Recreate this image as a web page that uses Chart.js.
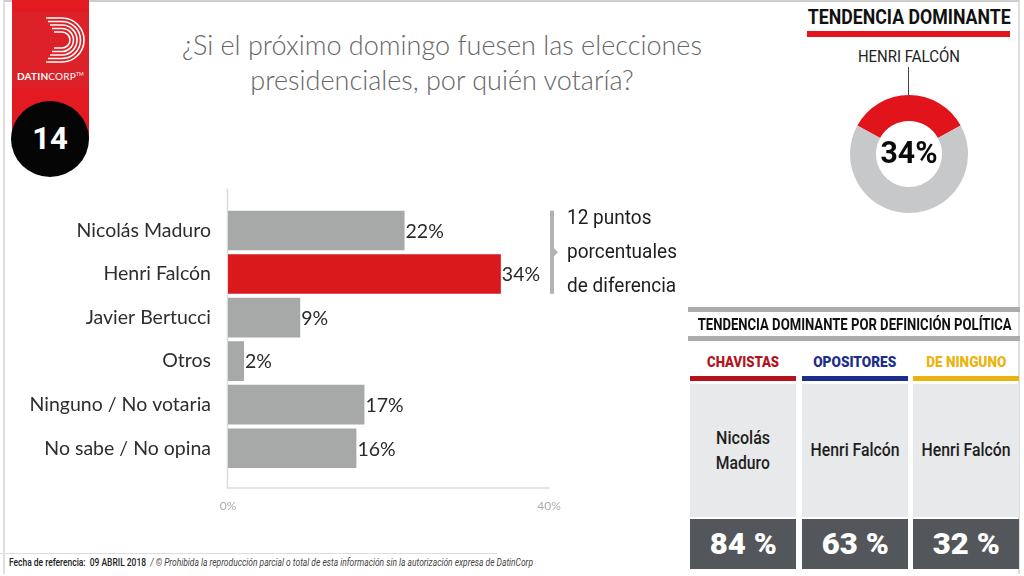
<!DOCTYPE html>
<html>
<head>
<meta charset="utf-8">
<script src="https://cdn.jsdelivr.net/npm/chart.js@4.4.1/dist/chart.umd.min.js"></script>
<style>
  html, body { margin: 0; padding: 0; }
  body { width: 1024px; height: 576px; position: relative; overflow: hidden; background: #fff; font-family: Lato, sans-serif; }
  .abs { position: absolute; }
  .frame { left: 3px; top: 0; width: 1017px; height: 574px; border-top: 2px solid #cdcdcd; border-left: 2px solid #dedede; border-right: 2px solid #dedede; box-sizing: border-box; }
  .narrow { font-family: Roboto, sans-serif; white-space: nowrap; }
  .fit { display: inline-block; white-space: nowrap; transform-origin: center center; }
  #title { left: 130px; top: 27px; width: 624px; text-align: center; font-size: 27px; font-weight: 300; color: #666; line-height: 35px; }
  #ribbon { left: 12px; top: 0; width: 77px; height: 140px; background: #e31a22; }
  #ribbon .logo { position: absolute; left: 0; top: 12px; width: 77px; height: 76px; background: #dc2128; }
  #ribbon .brand { position: absolute; left: 0; top: 70px; width: 77px; text-align: center; color: #fff; font-size: 10px; letter-spacing: 0.2px; }
  #badge { left: 11px; top: 101px; width: 78px; height: 76px; border-radius: 50%; background: #050505; color: #fff; font: bold 31px Roboto, sans-serif; text-align: center; line-height: 76px; }
  #trend { left: 784px; top: 5px; width: 250px; text-align: center; font-weight: bold; font-size: 21px; color: #111; }
  #trendBar { left: 807px; top: 31px; width: 203px; height: 6px; background: #e3141b; }
  #trendName { left: 809px; top: 46px; width: 200px; text-align: center; font-size: 17px; color: #222; }
  #trendLine { left: 908px; top: 67px; width: 1px; height: 31px; background: #444; }
  #donut { left: 850px; top: 95px; width: 118px; height: 118px; }
  #bars { left: 0; top: 180px; width: 690px; height: 340px; }
  .tline { left: 688px; width: 332px; height: 5px; background: #a9abad; }
  #tableHead { left: 660px; top: 315px; width: 390px; text-align: center; font-weight: bold; font-size: 16px; color: #111; }
  .col { top: 350px; width: 106px; }
  .col .head { height: 26px; text-align: center; font-weight: 900; font-size: 15px; line-height: 24px; }
  .col .stripe { height: 5px; }
  .col .name { margin-top: 3px; height: 133px; background: #e8e9ea; display: flex; flex-direction: column; align-items: center; justify-content: center; text-align: center; font-size: 18.5px; line-height: 25px; color: #1e1e1e; font-weight: 500; }
  .col .value { margin-top: 2px; height: 50px; background: #53575b; color: #fff; text-align: center; font-weight: 900; font-size: 30px; line-height: 50px; }
  #footLine { left: 0; top: 553px; width: 497px; height: 1px; background: #ddd; }
  #foot { left: 9px; top: 557px; font-size: 10px; color: #222; }
  #foot .fit { transform-origin: left center; }
  #foot i { color: #444; }
</style>
</head>
<body>
<div class="abs frame"></div>

<div class="abs" id="ribbon">
  <div class="logo">
    <svg width="77" height="60" viewBox="0 0 77 60">
      <g fill="none" stroke="#fff" stroke-width="1.6">
        <path d="M34 6 H50 A22 22 0 0 1 50 50 H34"/>
        <path d="M36 9.5 H50 A18.5 18.5 0 0 1 50 46.5 H36"/>
        <path d="M38 13 H50 A15 15 0 0 1 50 43 H38"/>
        <path d="M40 16.5 H50 A11.5 11.5 0 0 1 50 39.5 H40"/>
        <path d="M42 20 H50 A8 8 0 0 1 50 36 H42"/>
      </g>
    </svg>
  </div>
  <div class="brand"><b>DATIN</b>CORP<sup style="font-size:5px">TM</sup></div>
</div>
<div class="abs" id="badge">14</div>

<div class="abs" id="title"></div>

<div class="abs narrow" id="trend"><span class="fit" data-w="203">TENDENCIA DOMINANTE</span></div>
<div class="abs" id="trendBar"></div>
<div class="abs narrow" id="trendName"><span class="fit" data-w="102"></span></div>
<div class="abs" id="trendLine"></div>
<canvas class="abs" id="donut" width="118" height="118"></canvas>

<canvas class="abs" id="bars" width="690" height="340"></canvas>

<div class="abs tline" style="top:307px"></div>
<div class="abs narrow" id="tableHead"><span class="fit" data-w="314">TENDENCIA DOMINANTE POR DEFINICIÓN POLÍTICA</span></div>
<div class="abs tline" style="top:336px"></div>
<div id="table"></div>

<div class="abs" id="footLine"></div>
<div class="abs narrow" id="foot"><span class="fit" data-w="524"><b style="font-weight:500">Fecha de referencia:&nbsp; 09 ABRIL 2018</b>&nbsp; <i>/ © Prohibida la reproducción parcial o total de esta información sin la autorización expresa de DatinCorp</i></span></div>

<script>
const titleLines = ['¿Si el próximo domingo fuesen las elecciones', 'presidenciales, por quién votaría?'];

// main bar chart
const categories = ['Nicolás Maduro', 'Henri Falcón', 'Javier Bertucci', 'Otros', 'Ninguno / No votaria', 'No sabe / No opina'];
const voteShares = [22, 34, 9, 2, 17, 16];
const leader = 'Henri Falcón';
const axisTicks = [0, 40];

// donut top right
const donutName = 'HENRI FALCÓN';
const donutValues = [34, 66];

// table by political definition
const groups = ['CHAVISTAS', 'OPOSITORES', 'DE NINGUNO'];
const groupColors = ['#b3141c', '#1c2d8b', '#e9b410'];
const groupLeaders = [['Nicolás', 'Maduro'], ['Henri Falcón'], ['Henri Falcón']];
const groupShares = [84, 63, 32];

document.getElementById('title').innerHTML = titleLines.join('<br>');
document.querySelector('#trendName .fit').textContent = donutName;

const colLefts = [690, 802, 913];
const headWidths = [72, 83, 80];
document.getElementById('table').innerHTML = groups.map((g, i) =>
  `<div class="abs col narrow" style="left:${colLefts[i]}px">
     <div class="head" style="color:${groupColors[i]}"><span class="fit" data-w="${headWidths[i]}">${g}</span></div>
     <div class="stripe" style="background:${groupColors[i]}"></div>
     <div class="name">${groupLeaders[i].map(t => `<span class="fit" data-w="${t.length > 8 ? 89 : 54}">${t}</span>`).join('')}</div>
     <div class="value"><span class="fit" data-w="67">${groupShares[i]} %</span></div>
   </div>`).join('');

// squeeze the condensed-looking texts to the widths they have in the slide
document.querySelectorAll('.fit').forEach(el => {
  const w = +el.dataset.w;
  el.style.transform = `scaleX(${w / el.getBoundingClientRect().width})`;
});

function narrowText(ctx, text, x, y, scale) {
  ctx.save();
  ctx.translate(x, y);
  ctx.scale(scale, 1);
  ctx.fillText(text, 0, 0);
  ctx.restore();
}

const barExtras = {
  id: 'barExtras',
  beforeDatasetsDraw(chart) {
    const { ctx, chartArea, scales: { x } } = chart;
    ctx.save();
    ctx.strokeStyle = '#dcdcdc';
    ctx.lineWidth = 1.5;
    ctx.beginPath();
    ctx.moveTo(x.getPixelForValue(0) - 0.5, chartArea.top - 20);
    ctx.lineTo(x.getPixelForValue(0) - 0.5, chartArea.bottom + 18);
    ctx.lineTo(x.getPixelForValue(40) + 1, chartArea.bottom + 18);
    ctx.stroke();
    ctx.restore();
  },
  afterDatasetsDraw(chart) {
    const { ctx, scales: { x } } = chart;
    const bars = chart.getDatasetMeta(0).data;
    ctx.save();
    ctx.fillStyle = '#2a2a2a';
    ctx.font = '19.5px Lato';
    ctx.textBaseline = 'middle';
    bars.forEach((bar, i) => ctx.fillText(voteShares[i] + '%', bar.x + 1, bar.y + 1));

    // bracket between the two leading candidates
    const top = bars[0].y - bars[0].height / 2;
    const bottom = bars[1].y + bars[1].height / 2;
    const bx = x.getPixelForValue(40) + 1;
    ctx.fillStyle = '#b3b3b3';
    ctx.fillRect(bx, top, 4, bottom - top);
    const my = (top + bottom) / 2;
    ctx.beginPath();
    ctx.moveTo(bx + 4, my - 4);
    ctx.lineTo(bx + 8, my);
    ctx.lineTo(bx + 4, my + 4);
    ctx.fill();

    const gap = voteShares[1] - voteShares[0];
    ctx.fillStyle = '#1e1e1e';
    ctx.font = '21px Roboto';
    const sx = 110 / ctx.measureText('porcentuales').width;
    [gap + ' puntos', 'porcentuales', 'de diferencia'].forEach((t, i) =>
      narrowText(ctx, t, bx + 17, my - 34 + i * 34, sx));
    ctx.restore();
  }
};

new Chart(document.getElementById('bars'), {
  type: 'bar',
  data: {
    labels: categories,
    datasets: [{
      data: voteShares,
      backgroundColor: categories.map(c => c === leader ? '#d9191c' : '#a7a9a8'),
      categoryPercentage: 1,
      barPercentage: 0.91
    }]
  },
  options: {
    indexAxis: 'y',
    responsive: false,
    animation: false,
    layout: { padding: { top: 26, right: 141, left: 0, bottom: 0 } },
    plugins: { legend: { display: false }, tooltip: { enabled: false } },
    scales: {
      x: {
        min: 0,
        max: 40,
        grid: { display: false, drawTicks: false },
        border: { display: false },
        afterBuildTicks: s => { s.ticks = axisTicks.map(v => ({ value: v })); },
        afterFit: s => { s.height = 50; },
        ticks: { padding: 29, color: '#acacac', font: { family: 'Lato', size: 12 }, callback: v => v + '%' }
      },
      y: {
        grid: { display: false, drawTicks: false },
        border: { display: false },
        afterFit: s => { s.width = 228; },
        ticks: { padding: 17, color: '#2e2e2e', font: { family: 'Lato', size: 19.5 } }
      }
    }
  },
  plugins: [barExtras]
});

const donutCenter = {
  id: 'donutCenter',
  afterDraw(chart) {
    const { ctx } = chart;
    const arc = chart.getDatasetMeta(0).data[0];
    const label = donutValues[0] + '%';
    ctx.save();
    ctx.fillStyle = '#0a0a0a';
    ctx.font = 'bold 32px Roboto';
    ctx.textAlign = 'center';
    ctx.textBaseline = 'middle';
    narrowText(ctx, label, arc.x, arc.y + 1, 57 / ctx.measureText(label).width);
    ctx.restore();
  }
};

new Chart(document.getElementById('donut'), {
  type: 'doughnut',
  data: {
    labels: [donutName, 'Resto'],
    datasets: [{ data: donutValues, backgroundColor: ['#e2141b', '#c7c8c9'], borderWidth: 0 }]
  },
  options: {
    responsive: false,
    animation: false,
    cutout: '56%',
    rotation: -donutValues[0] / 100 * 180,
    plugins: { legend: { display: false }, tooltip: { enabled: false } }
  },
  plugins: [donutCenter]
});
</script>
</body>
</html>
